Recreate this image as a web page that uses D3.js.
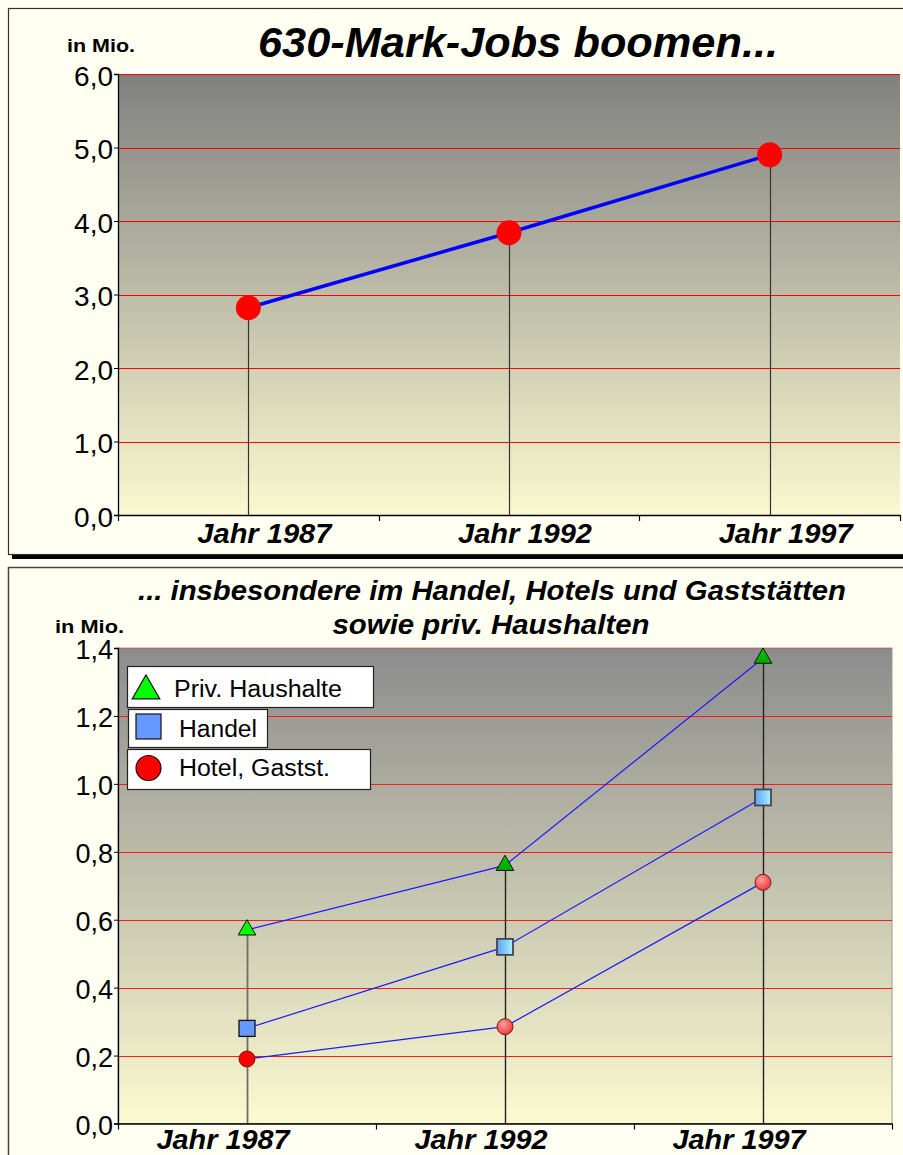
<!DOCTYPE html>
<html><head><meta charset="utf-8">
<script src="https://cdn.jsdelivr.net/npm/d3@7"></script>
<style>
html,body{margin:0;padding:0;background:#fefef2;}
svg{display:block;font-family:"Liberation Sans",Arial,sans-serif;}
</style></head>
<body>
<svg id="chart" width="903" height="1155"></svg>
<script>
// ---- data ----
const years = ["Jahr 1987", "Jahr 1992", "Jahr 1997"];
const totalJobs = [2.82, 3.84, 4.90];
const topTicks = [0, 1, 2, 3, 4, 5, 6];
const seriesNames = ["Priv. Haushalte", "Handel", "Hotel, Gastst."];
const privHaushalte = [0.57, 0.76, 1.37];
const handel = [0.28, 0.52, 0.96];
const hotelGastst = [0.19, 0.285, 0.71];
const bottomTicks = [0, 0.2, 0.4, 0.6, 0.8, 1.0, 1.2, 1.4];
const topTitle = "630-Mark-Jobs boomen...";
const bottomTitle = ["... insbesondere im Handel, Hotels und Gaststätten", "sowie priv. Haushalten"];
const unitLabel = "in Mio.";

const FONT = "Liberation Sans, Arial, sans-serif";
const svg = d3.select("#chart");
const fmt = d => d3.format(".1f")(d).replace(".", ",");
const crisp = v => Math.round(v) + 0.5;
const defs = svg.append("defs");

function vGrad(id, c0, c1) {
  const g = defs.append("linearGradient").attr("id", id).attr("x1", 0).attr("y1", 0).attr("x2", 0).attr("y2", 1);
  g.append("stop").attr("offset", "0%").attr("stop-color", c0);
  g.append("stop").attr("offset", "100%").attr("stop-color", c1);
}
vGrad("bgTop", "#808080", "#fbf9d0");
vGrad("bgBot", "#8c8c8c", "#fcfad0");
const sq = defs.append("linearGradient").attr("id", "sqGrad").attr("x1", 0).attr("y1", 0).attr("x2", 1).attr("y2", 0);
sq.append("stop").attr("offset", "0%").attr("stop-color", "#5f9fff");
sq.append("stop").attr("offset", "100%").attr("stop-color", "#a8f4ff");
const cg = defs.append("radialGradient").attr("id", "cGrad").attr("cx", "40%").attr("cy", "35%").attr("r", "65%");
cg.append("stop").attr("offset", "0%").attr("stop-color", "#ff9f9f");
cg.append("stop").attr("offset", "100%").attr("stop-color", "#ee3a3a");
const tg = defs.append("linearGradient").attr("id", "tGrad").attr("x1", 0).attr("y1", 0).attr("x2", 0).attr("y2", 1);
tg.append("stop").attr("offset", "0%").attr("stop-color", "#00c400");
tg.append("stop").attr("offset", "100%").attr("stop-color", "#00a800");

function label(x, y, txt, size, opts) {
  const t = svg.append("text").attr("x", x).attr("y", y).attr("font-family", FONT)
    .attr("font-size", size).attr("fill", "#000").text(txt);
  if (opts.anchor) t.attr("text-anchor", opts.anchor);
  if (opts.bold) t.attr("font-weight", "bold");
  if (opts.italic) t.attr("font-style", "italic");
  if (opts.len) t.attr("textLength", opts.len).attr("lengthAdjust", "spacingAndGlyphs");
  return t;
}

// ---- panels ----
svg.append("rect").attr("x", 12).attr("y", 555).attr("width", 900).attr("height", 4).attr("fill", "#000");
svg.append("rect").attr("x", 8.5).attr("y", 8.5).attr("width", 900).attr("height", 546)
  .attr("fill", "#fffff2").attr("stroke", "#333").attr("stroke-width", 1.2);
svg.append("rect").attr("x", 8.5).attr("y", 567.5).attr("width", 900).attr("height", 600)
  .attr("fill", "#fffff2").attr("stroke", "#444").attr("stroke-width", 1.5);

// =========== TOP CHART ===========
const xT = d3.scaleBand().domain(years).range([118, 900]);
const yT = d3.scaleLinear().domain([0, 6]).range([515, 74]);
const gT = svg.append("g");
gT.append("rect").attr("x", 118).attr("y", yT(6)).attr("width", 900 - 118).attr("height", yT(0) - yT(6)).attr("fill", "url(#bgTop)");
gT.selectAll("line.grid").data(topTicks.filter(d => d > 0)).join("line")
  .attr("x1", 118).attr("x2", 900).attr("y1", d => crisp(yT(d))).attr("y2", d => crisp(yT(d)))
  .attr("stroke", "#ff0000").attr("stroke-width", 1);
const cxT = i => xT(years[i]) + xT.bandwidth() / 2;
gT.selectAll("line.drop").data(totalJobs).join("line")
  .attr("x1", (d, i) => crisp(cxT(i))).attr("x2", (d, i) => crisp(cxT(i)))
  .attr("y1", d => yT(d)).attr("y2", yT(0)).attr("stroke", "#333").attr("stroke-width", 1.2);
const lineT = d3.line().x((d, i) => cxT(i)).y(d => yT(d));
gT.append("path").datum(totalJobs).attr("d", lineT).attr("fill", "none").attr("stroke", "#0000ff").attr("stroke-width", 3.5);
gT.selectAll("circle.pt").data(totalJobs).join("circle")
  .attr("cx", (d, i) => cxT(i)).attr("cy", d => yT(d)).attr("r", 12.5).attr("fill", "#ff0000");
const ayT = gT.append("g").attr("transform", "translate(118,0)")
  .call(d3.axisLeft(yT).tickValues(topTicks).tickFormat(fmt).tickSize(4).tickPadding(1));
ayT.select(".domain").attr("stroke", "#000").attr("stroke-width", 1.3);
ayT.selectAll("text").attr("font-size", 28).attr("fill", "#000").attr("font-family", FONT).attr("dy", "0.4em");
const axT = gT.append("g").attr("transform", `translate(0,${yT(0)})`)
  .call(d3.axisBottom(xT).tickSize(0).tickPadding(0));
axT.select(".domain").attr("stroke", "#000").attr("stroke-width", 1.5);
axT.selectAll("text").attr("font-size", 28).attr("font-weight", "bold").attr("font-style", "italic")
  .attr("fill", "#000").attr("font-family", FONT).attr("dy", 0).attr("y", 28).attr("x", 16)
  .attr("textLength", 134).attr("lengthAdjust", "spacingAndGlyphs");
gT.selectAll("line.xt").data(d3.range(years.length + 1)).join("line")
  .attr("x1", i => crisp(118 + i * xT.step())).attr("x2", i => crisp(118 + i * xT.step()))
  .attr("y1", yT(0)).attr("y2", yT(0) + 6).attr("stroke", "#000").attr("stroke-width", 1.2);
label(518, 57, topTitle, 42, {anchor: "middle", bold: true, italic: true, len: 520});
label(67, 52, unitLabel, 19, {bold: true, len: 68});

// =========== BOTTOM CHART ===========
const xB = d3.scaleBand().domain(years).range([118, 892]);
const yB = d3.scaleLinear().domain([0, 1.4]).range([1123.5, 648]);
const cx = i => xB(years[i]) + xB.bandwidth() / 2;
const gB = svg.append("g");
gB.append("rect").attr("x", 118).attr("y", yB(1.4)).attr("width", 892 - 118).attr("height", yB(0) - yB(1.4))
  .attr("fill", "url(#bgBot)").attr("stroke", "#999").attr("stroke-width", 1);
gB.selectAll("line.grid").data(bottomTicks.filter(d => d > 0)).join("line")
  .attr("x1", 118).attr("x2", 892).attr("y1", d => crisp(yB(d))).attr("y2", d => crisp(yB(d)))
  .attr("stroke", d => d === 1.4 ? "#b86a6a" : "#ff1a1a").attr("stroke-width", 1);
const series = [privHaushalte, handel, hotelGastst];
gB.selectAll("line.drop").data(years).join("line")
  .attr("x1", (d, i) => crisp(cx(i))).attr("x2", (d, i) => crisp(cx(i)))
  .attr("y1", (d, i) => yB(d3.max(series, s => s[i]))).attr("y2", yB(0))
  .attr("stroke", (d, i) => i === 0 ? "#707060" : "#222").attr("stroke-width", (d, i) => i === 0 ? 1.8 : 1.4);
const lineB = d3.line().x((d, i) => cx(i)).y(d => yB(d));
gB.selectAll("path.ser").data(series).join("path")
  .attr("d", lineB).attr("fill", "none").attr("stroke", "#1a1aff").attr("stroke-width", 1.2);
const triPath = d3.symbol().type(d3.symbolTriangle).size(135);
gB.selectAll("path.tri").data(privHaushalte).join("path")
  .attr("d", triPath).attr("transform", (d, i) => `translate(${cx(i)},${yB(d)})`)
  .attr("fill", (d, i) => i === 0 ? "#00ff00" : "url(#tGrad)").attr("stroke", "#111").attr("stroke-width", 1);
gB.selectAll("rect.sq").data(handel).join("rect")
  .attr("x", (d, i) => cx(i) - 8).attr("y", d => yB(d) - 8).attr("width", 16).attr("height", 16)
  .attr("fill", (d, i) => i === 0 ? "#6699ff" : "url(#sqGrad)").attr("stroke", (d, i) => i === 0 ? "#111" : "#445")
  .attr("stroke-width", (d, i) => i === 0 ? 1.3 : 1.8);
gB.selectAll("circle.ci").data(hotelGastst).join("circle")
  .attr("cx", (d, i) => cx(i)).attr("cy", d => yB(d)).attr("r", 8)
  .attr("fill", (d, i) => i === 0 ? "#ff0000" : "url(#cGrad)").attr("stroke", "#7a1a1a").attr("stroke-width", 1);
const ayB = gB.append("g").attr("transform", "translate(118,0)")
  .call(d3.axisLeft(yB).tickValues(bottomTicks).tickFormat(fmt).tickSize(4).tickPadding(1));
ayB.select(".domain").attr("stroke", "#000").attr("stroke-width", 1.3);
ayB.selectAll("text").attr("font-size", 27).attr("fill", "#000").attr("font-family", FONT).attr("dy", "0.4em");
const axB = gB.append("g").attr("transform", `translate(0,${yB(0)})`)
  .call(d3.axisBottom(xB).tickSize(0).tickPadding(0));
axB.select(".domain").attr("stroke", "#000").attr("stroke-width", 1.5);
axB.selectAll("text").attr("font-size", 27).attr("font-weight", "bold").attr("font-style", "italic")
  .attr("fill", "#000").attr("font-family", FONT).attr("dy", 0).attr("y", 25.5).attr("x", -24)
  .attr("textLength", 133).attr("lengthAdjust", "spacingAndGlyphs");
gB.selectAll("line.xt").data(d3.range(years.length + 1)).join("line")
  .attr("x1", i => crisp(118 + i * xB.step())).attr("x2", i => crisp(118 + i * xB.step()))
  .attr("y1", yB(0)).attr("y2", yB(0) + 6).attr("stroke", "#000").attr("stroke-width", 1.2);
label(492, 600, bottomTitle[0], 27, {anchor: "middle", bold: true, italic: true, len: 708});
label(491, 634, bottomTitle[1], 27, {anchor: "middle", bold: true, italic: true, len: 317});
label(55, 633, unitLabel, 19, {bold: true, len: 69});

// legend
const legBoxes = [
  {x: 127, y: 666, w: 246, h: 41, tx: 174, ty: 697, len: 168},
  {x: 128, y: 709, w: 139, h: 38, tx: 179, ty: 737, len: 78},
  {x: 127, y: 749, w: 243, h: 40, tx: 179, ty: 776, len: 151}
];
const lg = svg.append("g");
lg.selectAll("rect.box").data(legBoxes).join("rect")
  .attr("x", d => d.x + 0.5).attr("y", d => d.y + 0.5).attr("width", d => d.w).attr("height", d => d.h)
  .attr("fill", "#fff").attr("stroke", "#222").attr("stroke-width", 1.2);
lg.selectAll("text").data(legBoxes).join("text")
  .attr("x", d => d.tx).attr("y", d => d.ty).attr("font-size", 23).attr("fill", "#000").attr("font-family", FONT)
  .attr("textLength", d => d.len).attr("lengthAdjust", "spacingAndGlyphs")
  .text((d, i) => seriesNames[i]);
lg.append("path").attr("d", d3.symbol().type(d3.symbolTriangle).size(330)())
  .attr("transform", "translate(146,691)").attr("fill", "#00ff00").attr("stroke", "#111").attr("stroke-width", 1.2);
lg.append("rect").attr("x", 136).attr("y", 714).attr("width", 25).attr("height", 25)
  .attr("fill", "#6699ff").attr("stroke", "#111").attr("stroke-width", 1.2);
lg.append("circle").attr("cx", 148.5).attr("cy", 768).attr("r", 12.5)
  .attr("fill", "#ff0000").attr("stroke", "#111").attr("stroke-width", 1.2);
</script>
</body></html>
